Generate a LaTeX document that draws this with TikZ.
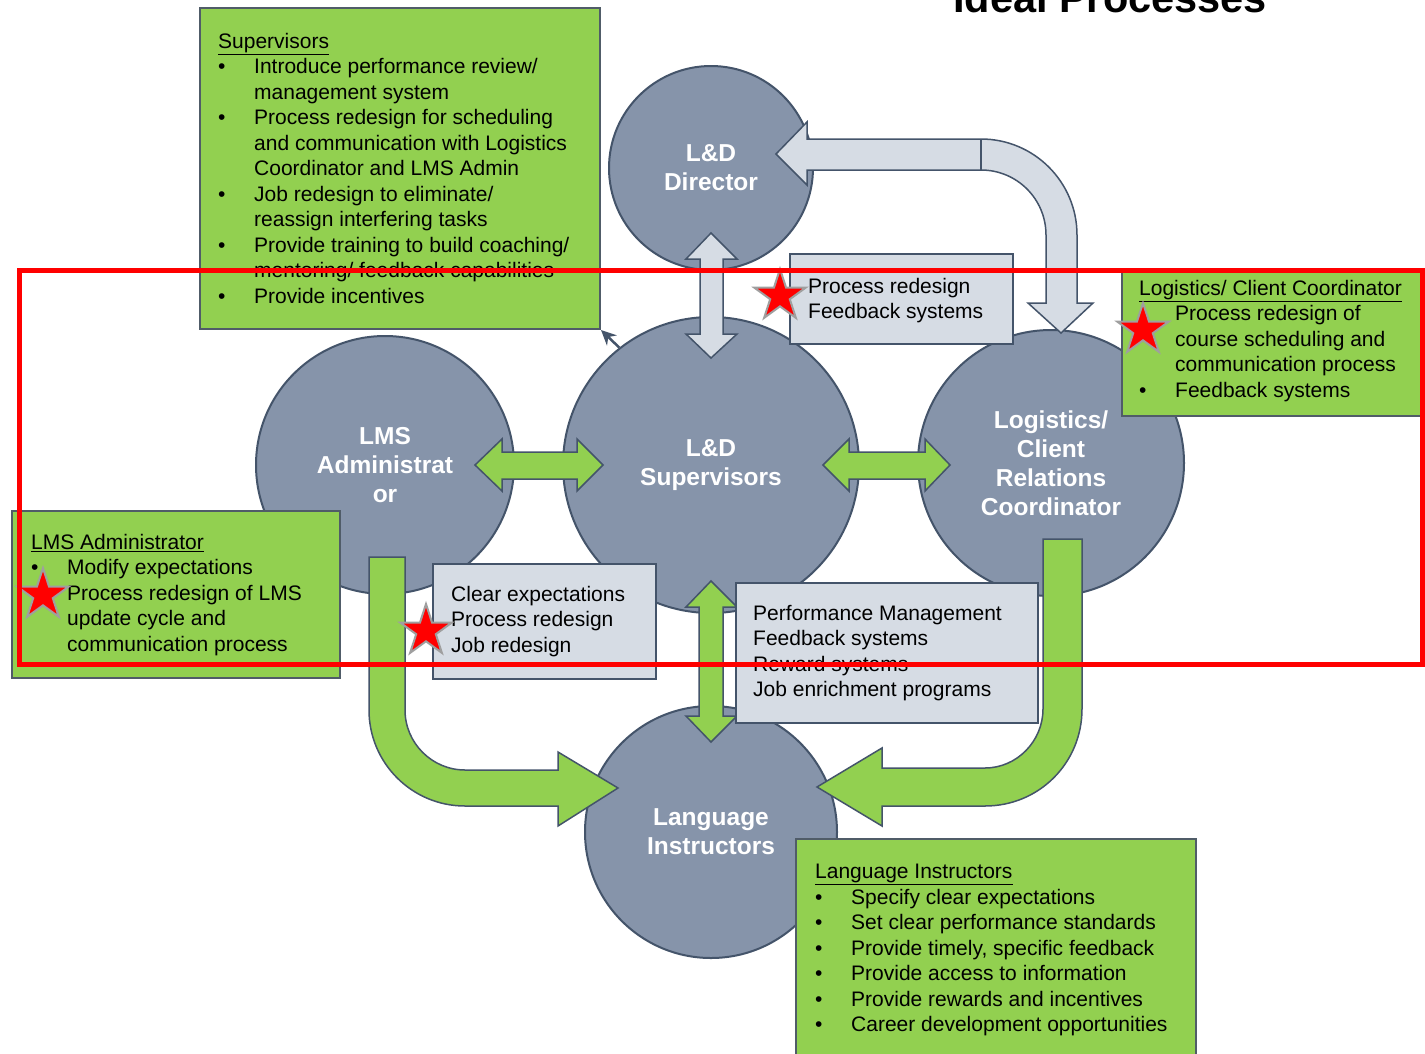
\documentclass[tikz,border=0pt]{standalone}
\usepackage{fontspec}
\setmainfont{Liberation Sans}
\usetikzlibrary{shapes.geometric,arrows.meta}
\definecolor{circfill}{RGB}{134,148,170}
\definecolor{slate}{RGB}{68,84,106}
\definecolor{lgreen}{RGB}{146,208,80}
\definecolor{paleblue}{RGB}{214,220,228}
\definecolor{boxline}{RGB}{80,92,104}
\newcommand\bulitem{\makebox[36pt][l]{\textbullet}}
\newcommand\indnt{\hspace*{36pt}}
\begin{document}
\begin{tikzpicture}[x=1pt,y=-1pt,
  circ/.style={circle, fill=circfill, draw=slate, line width=2pt, text=white,
    font=\fontsize{24.5}{29}\selectfont\bfseries, align=center, inner sep=0},
  gbox/.style={fill=lgreen, draw=boxline, line width=2pt, anchor=north west, inner sep=0},
  pbox/.style={fill=paleblue, draw=slate, line width=2pt, anchor=north west, inner sep=0},
  txt/.style={anchor=north west, inner sep=0, align=left,
    font=\fontsize{21}{25.5}\selectfont, text=black},
  garrow/.style={fill=lgreen, draw=slate, line width=1.5pt, line join=miter},
  parrow/.style={fill=paleblue, draw=slate, line width=1.5pt, line join=miter},
  redstar/.style={star, star points=5, star point ratio=2.618, fill=red,
    draw=gray!75, line width=2pt, minimum size=54pt, inner sep=0}]
\useasboundingbox (0,0) rectangle (1425,1053);
\fill[white] (0,0) rectangle (1425,1053);

% title
\node[anchor=base west, inner sep=0, font=\fontsize{41.5}{41.5}\selectfont\bfseries] (title) at (953,12) {Ideal Processes};

% circles
\node[circ, minimum size=204pt] (dir) at (711,168) {L\&D\\Director};
\node[circ, minimum size=296pt] (sup) at (711,465) {L\&D\\Supervisors};
\node[circ, minimum size=258pt] (lms) at (385,465) {LMS\\Administrat\\or};
\node[circ, minimum size=266pt] (log) at (1051,463) {Logistics/\\Client\\Relations\\Coordinator};
\node[circ, minimum size=252pt] (lang) at (711,832) {Language\\Instructors};

% gray bent arrow Logistics -> Director
\draw[parrow] (776,154) -- (807,122) -- (807,139) -- (981,139)
  .. controls (1034,139) and (1077,182) .. (1077,235) -- (1077,303) -- (1093,303)
  -- (1061,333) -- (1028,303) -- (1046,303) -- (1046,235)
  .. controls (1046,199) and (1017,170) .. (981,170) -- (807,170) -- (807,185) -- cycle;
\draw[slate, line width=1.5pt] (981,139) -- (981,170);

% gray double vertical arrow Director <-> Supervisors
\draw[parrow] (711,233) -- (737,259) -- (723,259) -- (723,334) -- (737,334) -- (711,358)
  -- (686,334) -- (700,334) -- (700,259) -- (686,259) -- cycle;

% green horizontal double arrows
\draw[garrow] (475,465) -- (502,439) -- (502,452) -- (577,452) -- (577,439) -- (603,465)
  -- (577,491) -- (577,479) -- (502,479) -- (502,491) -- cycle;
\draw[garrow] (823,465) -- (849,439) -- (849,452) -- (925,452) -- (925,439) -- (950,465)
  -- (925,491) -- (925,479) -- (849,479) -- (849,491) -- cycle;

% green vertical double arrow Supervisors <-> Instructors
\draw[garrow] (711,581) -- (737,607) -- (723,607) -- (723,716) -- (737,716) -- (711,742)
  -- (686,716) -- (699,716) -- (699,607) -- (686,607) -- cycle;

% green bent arrow LMS -> Instructors
\draw[garrow] (369,557) -- (369,710) .. controls (369,763) and (412,806) .. (465,806)
  -- (558,806) -- (558,826) -- (618,788) -- (558,752) -- (558,770) -- (465,770)
  .. controls (432,770) and (405,743) .. (405,710) -- (405,557) -- cycle;

% green bent arrow Logistics -> Instructors
\draw[garrow] (1043,539) -- (1082,539) -- (1082,709) .. controls (1082,763) and (1039,806) .. (985,806)
  -- (882,806) -- (882,826) -- (817,787) -- (882,748) -- (882,768) -- (985,768)
  .. controls (1017,768) and (1043,741) .. (1043,709) -- cycle;

% pale boxes
\node[pbox, minimum width=223pt, minimum height=90pt] (pb1) at (789,253) {};
\node[txt] (pt1) at (808,278) {Process redesign\\Feedback systems};
\node[pbox, minimum width=223pt, minimum height=115pt] (pb2) at (432,563) {};
\node[txt] (pt2) at (451,586) {Clear expectations\\Process redesign\\Job redesign};
\node[pbox, minimum width=302pt, minimum height=140pt] (pb3) at (735,582) {};
\node[txt] (pt3) at (753,605) {Performance Management\\Feedback systems\\Reward systems\\Job enrichment programs};

% green boxes
\node[gbox, minimum width=400pt, minimum height=321pt] (supbox) at (199,7) {};
\node[txt] (supt) at (218,33) {\underline{Supervisors}\\
\bulitem Introduce performance review/\\
\indnt management system\\
\bulitem Process redesign for scheduling\\
\indnt and communication with Logistics\\
\indnt Coordinator and LMS Admin\\
\bulitem Job redesign to eliminate/\\
\indnt reassign interfering tasks\\
\bulitem Provide training to build coaching/\\
\indnt mentoring/ feedback capabilities\\
\bulitem Provide incentives};

\node[gbox, minimum width=302pt, minimum height=147pt] (logbox) at (1121,268) {};
\node[txt] (logt) at (1139,280) {\underline{Logistics/ Client Coordinator}\\
\bulitem Process redesign of\\
\indnt course scheduling and\\
\indnt communication process\\
\bulitem Feedback systems};

\node[gbox, minimum width=328pt, minimum height=167pt] (lmsbox) at (11,510) {};
\node[txt] (lmst) at (31,534) {\underline{LMS Administrator}\\
\bulitem Modify expectations\\
\bulitem Process redesign of LMS\\
\indnt update cycle and\\
\indnt communication process};

\node[gbox, minimum width=400pt, minimum height=225pt] (langbox) at (795,838) {};
\node[txt] (langt) at (815,864) {\underline{Language Instructors}\\
\bulitem Specify clear expectations\\
\bulitem Set clear performance standards\\
\bulitem Provide timely, specific feedback\\
\bulitem Provide access to information\\
\bulitem Provide rewards and incentives\\
\bulitem Career development opportunities};

% small arrow from supervisors circle to supervisors box
\draw[slate, line width=2.5pt, -{Stealth[length=15pt,width=14pt]}] (sup.128) -- (supbox.south east);

% stars
\node[redstar] (s1) at (780,296) {};
\node[redstar] (s2) at (1143,330) {};
\node[redstar] (s3) at (43,595) {};
\node[redstar] (s4) at (426,631) {};

% red highlight rectangle
\draw[red, line width=5pt] (19,270) rectangle (1422,664);
\end{tikzpicture}
\end{document}
